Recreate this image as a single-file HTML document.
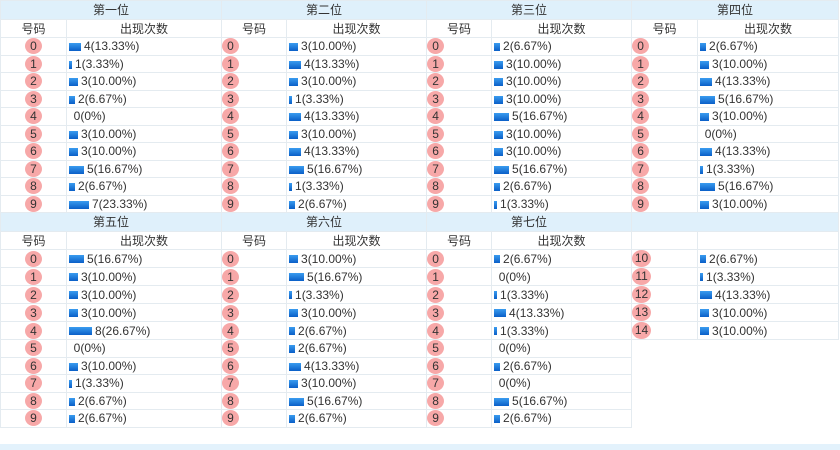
<!DOCTYPE html><html><head><meta charset="utf-8"><style>
body{margin:0;width:840px;height:450px;background:#fff;position:relative;overflow:hidden;font-family:"Liberation Sans","Noto Sans CJK SC",sans-serif;font-size:12px;color:#333}
table{position:absolute;border-collapse:collapse;table-layout:fixed}
td{border:1px solid #e4ebf0;padding:0;height:16.5px;line-height:14px;white-space:nowrap;overflow:hidden}
td:first-child{text-align:center}
tr.h td{background:#dff0fb;height:18px;text-align:center}
tr.s td{height:17px;text-align:center}
b{display:inline-block;width:17px;height:16px;border-radius:50%;background:#f7a8a8;font-weight:normal;line-height:16px;text-align:center;font-size:12px;vertical-align:middle}
b.w{width:19px;height:17px;line-height:17px}
td i{display:inline-block;height:8px;background:linear-gradient(#3a9cf0,#0a5fc8);margin:0 3px 0 2px;vertical-align:middle}
</style></head><body>
<table style="left:0;top:0;width:838px"><colgroup><col style="width:66px"><col style="width:155px"><col style="width:65px"><col style="width:140px"><col style="width:65px"><col style="width:140px"><col style="width:66px"><col style="width:141px"></colgroup>
<tr class="h"><td colspan="2">第一位</td><td colspan="2">第二位</td><td colspan="2">第三位</td><td colspan="2">第四位</td></tr>
<tr class="s"><td>号码</td><td>出现次数</td><td>号码</td><td>出现次数</td><td>号码</td><td>出现次数</td><td>号码</td><td>出现次数</td></tr>
<tr><td><b>0</b></td><td><i style="width:12px"></i>4(13.33%)</td><td><b>0</b></td><td><i style="width:9px"></i>3(10.00%)</td><td><b>0</b></td><td><i style="width:6px"></i>2(6.67%)</td><td><b>0</b></td><td><i style="width:6px"></i>2(6.67%)</td></tr>
<tr><td><b>1</b></td><td><i style="width:3px"></i>1(3.33%)</td><td><b>1</b></td><td><i style="width:12px"></i>4(13.33%)</td><td><b>1</b></td><td><i style="width:9px"></i>3(10.00%)</td><td><b>1</b></td><td><i style="width:9px"></i>3(10.00%)</td></tr>
<tr><td><b>2</b></td><td><i style="width:9px"></i>3(10.00%)</td><td><b>2</b></td><td><i style="width:9px"></i>3(10.00%)</td><td><b>2</b></td><td><i style="width:9px"></i>3(10.00%)</td><td><b>2</b></td><td><i style="width:12px"></i>4(13.33%)</td></tr>
<tr><td><b>3</b></td><td><i style="width:6px"></i>2(6.67%)</td><td><b>3</b></td><td><i style="width:3px"></i>1(3.33%)</td><td><b>3</b></td><td><i style="width:9px"></i>3(10.00%)</td><td><b>3</b></td><td><i style="width:15px"></i>5(16.67%)</td></tr>
<tr><td><b>4</b></td><td>&nbsp;&nbsp;0(0%)</td><td><b>4</b></td><td><i style="width:12px"></i>4(13.33%)</td><td><b>4</b></td><td><i style="width:15px"></i>5(16.67%)</td><td><b>4</b></td><td><i style="width:9px"></i>3(10.00%)</td></tr>
<tr><td><b>5</b></td><td><i style="width:9px"></i>3(10.00%)</td><td><b>5</b></td><td><i style="width:9px"></i>3(10.00%)</td><td><b>5</b></td><td><i style="width:9px"></i>3(10.00%)</td><td><b>5</b></td><td>&nbsp;&nbsp;0(0%)</td></tr>
<tr><td><b>6</b></td><td><i style="width:9px"></i>3(10.00%)</td><td><b>6</b></td><td><i style="width:12px"></i>4(13.33%)</td><td><b>6</b></td><td><i style="width:9px"></i>3(10.00%)</td><td><b>6</b></td><td><i style="width:12px"></i>4(13.33%)</td></tr>
<tr><td><b>7</b></td><td><i style="width:15px"></i>5(16.67%)</td><td><b>7</b></td><td><i style="width:15px"></i>5(16.67%)</td><td><b>7</b></td><td><i style="width:15px"></i>5(16.67%)</td><td><b>7</b></td><td><i style="width:3px"></i>1(3.33%)</td></tr>
<tr><td><b>8</b></td><td><i style="width:6px"></i>2(6.67%)</td><td><b>8</b></td><td><i style="width:3px"></i>1(3.33%)</td><td><b>8</b></td><td><i style="width:6px"></i>2(6.67%)</td><td><b>8</b></td><td><i style="width:15px"></i>5(16.67%)</td></tr>
<tr><td><b>9</b></td><td><i style="width:20px"></i>7(23.33%)</td><td><b>9</b></td><td><i style="width:6px"></i>2(6.67%)</td><td><b>9</b></td><td><i style="width:3px"></i>1(3.33%)</td><td><b>9</b></td><td><i style="width:9px"></i>3(10.00%)</td></tr>
<tr class="h"><td colspan="2">第五位</td><td colspan="2">第六位</td><td colspan="2">第七位</td><td colspan="2"></td></tr>
<tr class="s"><td>号码</td><td>出现次数</td><td>号码</td><td>出现次数</td><td>号码</td><td>出现次数</td><td></td><td></td></tr>
<tr><td><b>0</b></td><td><i style="width:15px"></i>5(16.67%)</td><td><b>0</b></td><td><i style="width:9px"></i>3(10.00%)</td><td><b>0</b></td><td><i style="width:6px"></i>2(6.67%)</td><td><b class="w">10</b></td><td><i style="width:6px"></i>2(6.67%)</td></tr>
<tr><td><b>1</b></td><td><i style="width:9px"></i>3(10.00%)</td><td><b>1</b></td><td><i style="width:15px"></i>5(16.67%)</td><td><b>1</b></td><td>&nbsp;&nbsp;0(0%)</td><td><b class="w">11</b></td><td><i style="width:3px"></i>1(3.33%)</td></tr>
<tr><td><b>2</b></td><td><i style="width:9px"></i>3(10.00%)</td><td><b>2</b></td><td><i style="width:3px"></i>1(3.33%)</td><td><b>2</b></td><td><i style="width:3px"></i>1(3.33%)</td><td><b class="w">12</b></td><td><i style="width:12px"></i>4(13.33%)</td></tr>
<tr><td><b>3</b></td><td><i style="width:9px"></i>3(10.00%)</td><td><b>3</b></td><td><i style="width:9px"></i>3(10.00%)</td><td><b>3</b></td><td><i style="width:12px"></i>4(13.33%)</td><td><b class="w">13</b></td><td><i style="width:9px"></i>3(10.00%)</td></tr>
<tr><td><b>4</b></td><td><i style="width:23px"></i>8(26.67%)</td><td><b>4</b></td><td><i style="width:6px"></i>2(6.67%)</td><td><b>4</b></td><td><i style="width:3px"></i>1(3.33%)</td><td><b class="w">14</b></td><td><i style="width:9px"></i>3(10.00%)</td></tr>
<tr><td><b>5</b></td><td>&nbsp;&nbsp;0(0%)</td><td><b>5</b></td><td><i style="width:6px"></i>2(6.67%)</td><td><b>5</b></td><td>&nbsp;&nbsp;0(0%)</td><td style="border:0"></td><td style="border:0"></td></tr>
<tr><td><b>6</b></td><td><i style="width:9px"></i>3(10.00%)</td><td><b>6</b></td><td><i style="width:12px"></i>4(13.33%)</td><td><b>6</b></td><td><i style="width:6px"></i>2(6.67%)</td><td style="border:0"></td><td style="border:0"></td></tr>
<tr><td><b>7</b></td><td><i style="width:3px"></i>1(3.33%)</td><td><b>7</b></td><td><i style="width:9px"></i>3(10.00%)</td><td><b>7</b></td><td>&nbsp;&nbsp;0(0%)</td><td style="border:0"></td><td style="border:0"></td></tr>
<tr><td><b>8</b></td><td><i style="width:6px"></i>2(6.67%)</td><td><b>8</b></td><td><i style="width:15px"></i>5(16.67%)</td><td><b>8</b></td><td><i style="width:15px"></i>5(16.67%)</td><td style="border:0"></td><td style="border:0"></td></tr>
<tr><td><b>9</b></td><td><i style="width:6px"></i>2(6.67%)</td><td><b>9</b></td><td><i style="width:6px"></i>2(6.67%)</td><td><b>9</b></td><td><i style="width:6px"></i>2(6.67%)</td><td style="border:0"></td><td style="border:0"></td></tr>
</table>
<div style="position:absolute;left:0;top:444px;width:840px;height:6px;background:#e3f2fc"></div>
</body></html>
